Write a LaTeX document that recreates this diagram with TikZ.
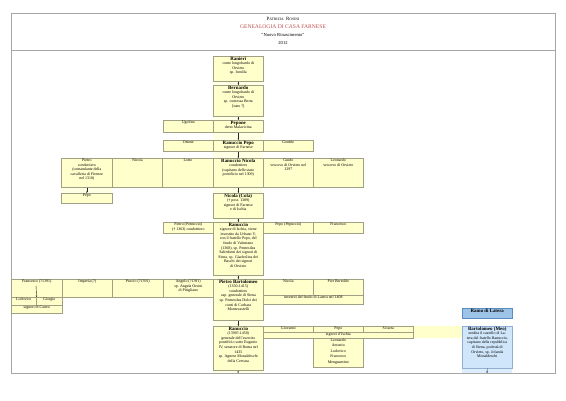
\documentclass[tikz,border=0pt]{standalone}
\usepackage{fontspec}
\setmainfont{Liberation Serif}
\usetikzlibrary{arrows.meta}
\definecolor{cellfill}{HTML}{FFFFCC}
\definecolor{stripfill}{HTML}{FFFFE4}
\definecolor{cellline}{HTML}{A0A084}
\definecolor{framegray}{HTML}{A6A6A6}
\definecolor{titlered}{HTML}{C0504D}
\definecolor{bluehead}{HTML}{9DC3E6}
\definecolor{bluehline}{HTML}{5B8BC0}
\definecolor{bluefill}{HTML}{CFE6FB}
\definecolor{blueline}{HTML}{8FB0D0}
\newcommand\nm[1]{{\fontsize{4.9}{5.5}\selectfont\bfseries #1}}
\newcommand\gcell[7][cellbox]{%
  \node[#1, minimum width=#5pt, minimum height=#6pt] (#2) at (#3,#4) {};
  \node[txt] (#2t) at ([yshift=-0.7pt]#2.north) {#7};
}
\tikzset{
  cellbox/.style={draw=cellline, fill=cellfill, line width=0.6pt, inner sep=0pt, anchor=north west},
  bluebox/.style={draw=blueline, fill=bluefill, line width=0.6pt, inner sep=0pt, anchor=north west},
  blueheadbox/.style={draw=bluehline, fill=bluehead, line width=0.6pt, inner sep=0pt, anchor=north west},
  txt/.style={anchor=north, inner sep=0pt, align=center, font=\fontsize{3.95}{4.55}\selectfont},
  arr/.style={-{Stealth[length=1.6pt,width=1.5pt]}, line width=0.4pt, black!85},
  framel/.style={draw=framegray, line width=1pt},
}
\begin{document}
\begin{tikzpicture}[x=1pt,y=-1pt]
\useasboundingbox (0,0) rectangle (566,400);
\fill[white] (0,0) rectangle (566,400);
% frame
\draw[framel] (11,13) rectangle (555,373);
\draw[framel] (11,50) -- (555,50);
% title
\node[inner sep=0pt] (author) at (283,19) {{\fontsize{4.8}{5}\selectfont P}{\fontsize{3.7}{5}\selectfont ATRIZIA} {\fontsize{4.8}{5}\selectfont R}{\fontsize{3.7}{5}\selectfont OSINI}};
\node[inner sep=0pt, text=titlered, font=\fontsize{5.6}{6}\selectfont] (title) at (283,27) {GENEALOGIA DI CASA FARNESE};
\node[inner sep=0pt, font=\fontsize{4.6}{5}\selectfont] (sub) at (283,35) {“Nuovo Rinascimento”};
\node[inner sep=0pt, font=\fontsize{4.6}{5}\selectfont] (year) at (283,43) {2012};
% light strips behind arrows
\fill[stripfill] (213,81) rectangle (263,85);
\fill[stripfill] (213,116) rectangle (263,120);
\fill[stripfill] (213,132) rectangle (263,140);
\fill[stripfill] (213,151) rectangle (263,158);
\fill[stripfill] (213,187) rectangle (263,193);
\fill[stripfill] (61,187) rectangle (112,193);
\fill[stripfill] (213,218) rectangle (263,222);
\fill[stripfill] (213,275) rectangle (263,279);
\fill[stripfill] (213,320) rectangle (263,326);
\fill[stripfill] (213,370) rectangle (263,373);
\fill[cellfill] (413,326) rectangle (462,338);
\fill[bluefill!70] (462,368) rectangle (512,373);
% generation 1-2
\gcell{ranieri}{213}{56}{50}{25}{\nm{Ranieri}\\conte longobardo di\\Orvieto\\sp. Ismilla}
\gcell{bernardo}{213}{85}{50}{31}{\nm{Bernardo}\\conte longobardo di\\Orvieto\\sp. contessa Berta\\{[nato ?]}}
% Pepone row
\gcell{ugolino}{163}{120}{50}{12}{Ugolino}
\gcell{pepone}{213}{120}{50}{12}{\nm{Pepone}\\detto Malavicina}
% Ranuccio Pepo row
\gcell{ottone}{163}{140}{50}{11}{Ottone}
\gcell{ranpepo}{213}{140}{50}{11}{\nm{Ranuccio Pepo}\\signore di Farnese}
\gcell{gentile}{263}{140}{50}{11}{Gentile}
% Ranuccio Nicola row
\gcell{pietro}{61}{158}{51}{29}{Pietro\\condottiero\\(comandante della\\cavalleria di Firenze\\nel 1310)}
\gcell{nicolaA}{112}{158}{50}{29}{Nicola}
\gcell{lotto}{162}{158}{51}{29}{Lotto}
\gcell{rannic}{213}{158}{50}{29}{\nm{Ranuccio Nicola}\\condottiero\\(capitano delle stato\\pontificio nel 1309)}
\gcell{guido}{263}{158}{50}{29}{Guido\\vescovo di Orvieto nel\\1297}
\gcell{leonardoA}{313}{158}{50}{29}{Leonardo\\vescovo di Orvieto}
\gcell{pepoA}{61}{193}{51}{10}{Pepo}
% Nicola (Cola)
\gcell{cola}{213}{193}{50}{25}{\nm{Nicola (Cola)}\\(† post. 1389)\\signore di Farnese\\e di Ischia}
% Ranuccio row
\gcell{petruccio}{163}{222}{50}{11}{Pietro (Petruccio)\\(† 1363) condottiero}
\gcell{ranB}{213}{222}{50}{53}{\nm{Ranuccio}\\signore di Ischia, viene\\investito da Urbano V,\\con il fratello Pepo, del\\feudo di Valentano\\(1368), sp. Pentesilea\\Salimbeni dei signori di\\Siena, sp. Giacholina dei\\Baschi dei signori\\di Orvieto}
\gcell{pepuccio}{263}{222}{50}{11}{Pepo (Pepuccio)}
\gcell{francescoA}{313}{222}{50}{11}{Francesco}
% Pietro Bartolomeo row
\gcell{francescoB}{11}{279}{51}{18}{Francesco (?1391)}
\gcell{imperia}{62}{279}{50}{18}{Imperia (?)}
\gcell{puccio}{112}{279}{51}{18}{Puccio (?1391)}
\gcell{angelo}{163}{279}{50}{18}{Angelo (?1391)\\sp. Angela Orsini\\di Pitigliano}
\gcell{pietrob}{213}{279}{50}{41}{\nm{Pietro Bartolomeo}\\(1350-1415)\\condottiero\\cap. generale di Siena\\sp. Pentesilea Dolci dei\\conti di Corbara\\Montecastelli}
\gcell{nicolaB}{263}{279}{50}{16}{Nicola}
\gcell{pierb}{313}{279}{50}{16}{Pier Bertoldo}
\gcell{investiti}{263}{295}{100}{9}{investiti del feudo di Latera nel 1408}
\gcell{lodovico}{11}{297}{25}{8}{Lodovico}
\gcell{giorgio}{36}{297}{26}{8}{Giorgio}
\gcell{castro}{11}{305}{51}{8}{signori di Castro}
% last Ranuccio row
\gcell{ranC}{213}{326}{50}{44}{\nm{Ranuccio}\\(1390?-1450)\\generale dell'esercito\\pontificio sotto Eugenio\\IV, senatore di Roma nel\\1435\\sp. Agnese Monaldeschi\\della Cervara}
\gcell{giovanni}{263}{326}{50}{6}{Giovanni}
\gcell{pepoC}{313}{326}{50}{6}{Pepo}
\gcell{sciarra}{363}{326}{50}{6}{Sciarra}
\gcell{ischia}{263}{332}{150}{6}{signori d'Ischia}
\gcell{sons}{313}{338}{50}{29}{Leonardo\\[0.8pt]Antonio\\[0.8pt]Lodovico\\[0.8pt]Francesco\\[0.8pt]Menguantino}
% Ramo di Latera
\gcell[blueheadbox]{latera}{462}{308}{50}{10}{\nm{Ramo di Latera}}
\gcell[bluebox]{bartolomeo}{462}{326}{50}{42}{\nm{Bartolomeo (Meo)}\\eredita il castello di La-\\tera dal fratello Ranuccio,\\capitano della repubblica\\di Siena, podestà di\\Orvieto, sp. Jolanda\\Monaldeschi}
% arrows
\coordinate (endC) at (238,373);
\coordinate (endB) at (487,373);
\coordinate (fstart) at (36,285.5);
\draw[arr] (ranieri) -- (bernardo);
\draw[arr] (bernardo) -- (pepone);
\draw[arr] (pepone) -- (ranpepo);
\draw[arr] (ranpepo) -- (rannic);
\draw[arr] (rannic) -- (cola);
\draw[arr] (pietro) -- (pepoA);
\draw[arr] (cola) -- (ranB);
\draw[arr] (ranB) -- (pietrob);
\draw[arr] (pietrob) -- (ranC);
\draw[arr] (ranC.south) -- (endC);
\draw[arr] (bartolomeo.south) -- (endB);
\draw[arr] (fstart) -- (lodovico.north east);
\end{tikzpicture}
\end{document}
